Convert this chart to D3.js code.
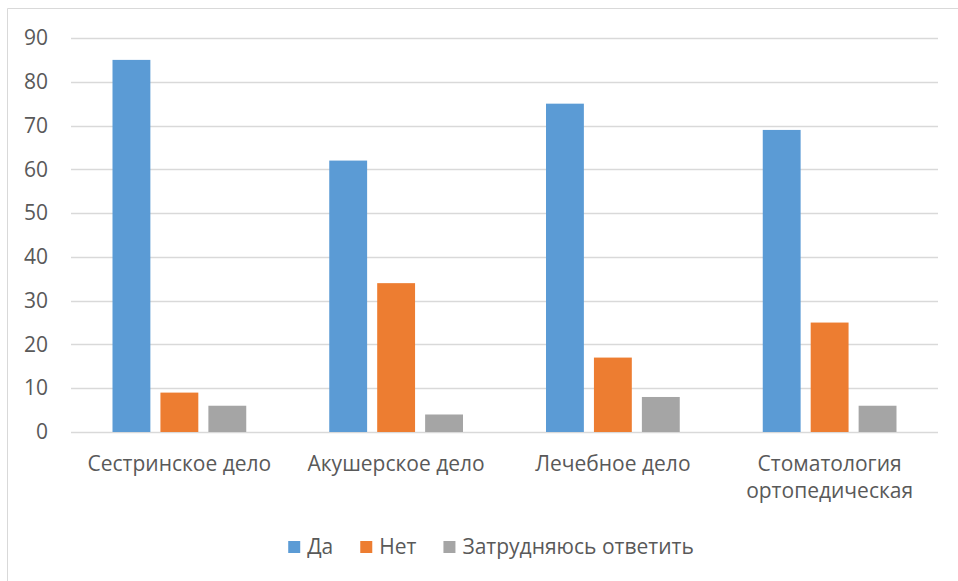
<!DOCTYPE html>
<html>
<head>
<meta charset="utf-8">
<script src="https://cdn.jsdelivr.net/npm/d3@7"></script>
<style>
  body { margin: 0; background: #fff; }
  text { font-family: "Open Sans", sans-serif; fill: #595959; }
</style>
</head>
<body>
<div id="chart"></div>
<script>
var categories = ["Сестринское дело", "Акушерское дело", "Лечебное дело", "Стоматология ортопедическая"];
var seriesNames = ["Да", "Нет", "Затрудняюсь ответить"];
var yesValues = [85, 62, 75, 69];
var noValues = [9, 34, 17, 25];
var unsureValues = [6, 4, 8, 6];
var yTicks = [0, 10, 20, 30, 40, 50, 60, 70, 80, 90];

var colors = ["#5b9bd5", "#ed7d31", "#a5a5a5"];
var seriesValues = [yesValues, noValues, unsureValues];
var fontSize = "21px";

var width = 958, height = 581;
var margin = {left: 71, right: 20, top: 38, bottom: 149};

var svg = d3.select("#chart")
  .append("svg")
  .attr("width", width)
  .attr("height", height);

// chart frame (only top and left edges are visible in the picture)
svg.append("path")
  .attr("d", "M7.5," + height + " L7.5,8.5 L" + width + ",8.5")
  .attr("fill", "none")
  .attr("stroke", "#d9d9d9")
  .attr("stroke-width", 1);

var x0 = d3.scaleBand()
  .domain(categories)
  .range([margin.left, 938]);

var x1 = d3.scaleBand()
  .domain(seriesNames)
  .range([41.5, x0.bandwidth() - 41.5])
  .paddingInner(0.21);

var y = d3.scaleLinear()
  .domain([0, 90])
  .range([432, 38]);

// gridlines
svg.append("g")
  .selectAll("line")
  .data(yTicks)
  .enter()
  .append("line")
  .attr("x1", margin.left)
  .attr("x2", 938)
  .attr("y1", d => Math.round(y(d)) + 0.5)
  .attr("y2", d => Math.round(y(d)) + 0.5)
  .attr("stroke", "#d9d9d9")
  .attr("stroke-width", 1.5);

// y axis labels
var yAxis = d3.axisLeft(y).tickValues(yTicks).tickSize(0).tickPadding(23);
var yg = svg.append("g")
  .attr("transform", "translate(" + margin.left + ",0)")
  .call(yAxis);
yg.select(".domain").remove();
yg.selectAll("text")
  .style("font-size", fontSize)
  .style("font-family", "'Open Sans', sans-serif")
  .attr("fill", "#595959");

// bars
var groups = svg.append("g")
  .selectAll("g")
  .data(categories)
  .enter()
  .append("g")
  .attr("transform", d => "translate(" + x0(d) + ",0)");

groups.selectAll("rect")
  .data((d, i) => seriesNames.map((s, j) => ({series: s, value: seriesValues[j][i], color: colors[j]})))
  .enter()
  .append("rect")
  .attr("x", d => x1(d.series))
  .attr("width", x1.bandwidth())
  .attr("y", d => y(d.value))
  .attr("height", d => y(0) - y(d.value))
  .attr("fill", d => d.color);

// x axis labels
var xAxis = d3.axisBottom(x0).tickSize(0).tickPadding(24);
var xg = svg.append("g")
  .attr("transform", "translate(0," + y(0) + ")")
  .call(xAxis);
xg.select(".domain").remove();
xg.selectAll("text")
  .style("font-size", fontSize)
  .style("font-family", "'Open Sans', sans-serif")
  .attr("fill", "#595959")
  .call(wrap, 205);

function wrap(texts, w) {
  texts.each(function () {
    var text = d3.select(this),
        words = text.text().split(/\s+/),
        yy = text.attr("y"),
        dy = parseFloat(text.attr("dy")),
        line = [],
        lineNumber = 0,
        tspan = text.text(null).append("tspan").attr("x", 0).attr("y", yy).attr("dy", dy + "em");
    words.forEach(function (word) {
      line.push(word);
      tspan.text(line.join(" "));
      if (tspan.node().getComputedTextLength() > w && line.length > 1) {
        line.pop();
        tspan.text(line.join(" "));
        line = [word];
        tspan = text.append("tspan").attr("x", 0).attr("y", yy)
          .attr("dy", (++lineNumber * 1.29 + dy) + "em").text(word);
      }
    });
  });
}

// legend, centred under the plot
var legend = svg.append("g").attr("transform", "translate(0,547)");
var items = [], lx = 0;
seriesNames.forEach(function (s, j) {
  var g = legend.append("g");
  g.append("rect")
    .attr("x", 0)
    .attr("y", -6)
    .attr("width", 12)
    .attr("height", 12)
    .attr("fill", colors[j]);
  var t = g.append("text")
    .attr("x", 19)
    .attr("y", 0)
    .attr("dy", "0.35em")
    .style("font-size", fontSize)
    .text(s);
  var w = 19 + t.node().getComputedTextLength();
  items.push({g: g, x: lx});
  lx += w + (j < seriesNames.length - 1 ? 27 : 0);
});
var startX = 491 - lx / 2;
items.forEach(function (it) {
  it.g.attr("transform", "translate(" + (startX + it.x) + ",0)");
});
</script>
</body>
</html>
